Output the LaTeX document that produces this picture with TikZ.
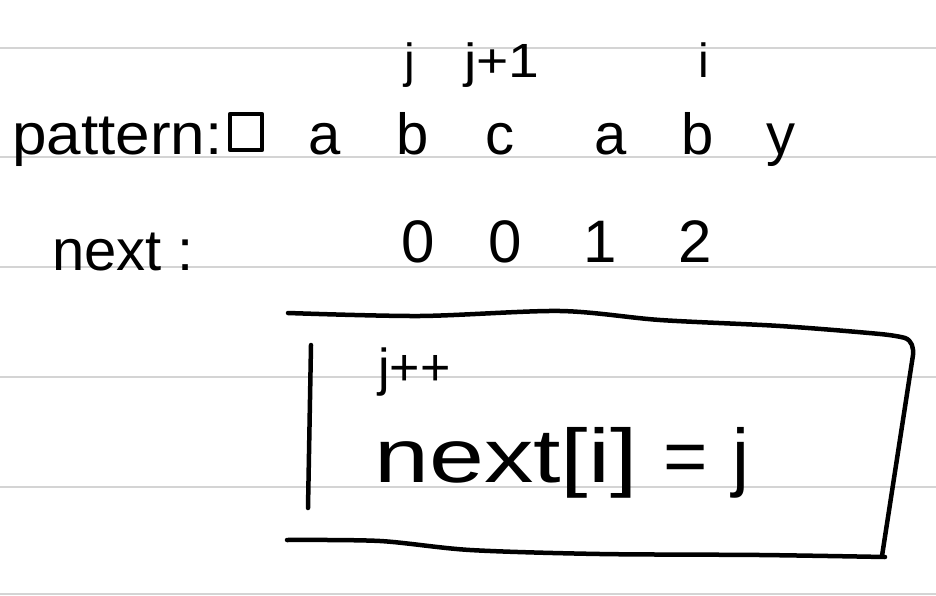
\documentclass[tikz,border=0pt]{standalone}
\usepackage{fontspec}
\setmainfont{Liberation Sans}
\usetikzlibrary{positioning}
\begin{document}
\begin{tikzpicture}[
      x = 1pt, y = -1pt, % picture units = pixels
      ruling/.style = {draw=black!17, line width=2.5pt},
      ink/.style = {draw=black, line width=4.5pt, line cap=round, line join=round},
      hand/.style = {inner sep=0pt, anchor=base, font=\fontsize{58}{58}\selectfont},
      idx/.style = {hand, font=\fontsize{48}{48}\selectfont},
      digit/.style = {hand, font=\fontsize{60}{60}\selectfont}
   ]

   \useasboundingbox (0,0) rectangle (936,596);
   \fill[white] (0,0) rectangle (936,596);

   % ruled paper
   \foreach \y in {48,157,267,377,487,594}
      \draw[ruling] (0,\y) -- (936,\y);

   % pattern row
   \node[hand, anchor=base west] (pat) at (12,155) {\scalebox{1.07}[1]{pattern:}};
   \node[ink, rectangle, minimum width=32pt, minimum height=36pt, inner sep=0pt] (blank) at (246,132) {};
   \node[hand] (c1) at (325,155) {a};
   \node[hand] (c2) at (413,155) {b};
   \node[hand] (c3) at (500,155) {c};
   \node[hand] (c4) at (611,155) {a};
   \node[hand] (c5) at (698,155) {b};
   \node[hand] (c6) at (781,155) {y};

   % index marks
   \node[idx] (lj)  at (410,78) {j};
   \node[idx, anchor=base west] (lj1) at (464,78) {\scalebox{1.15}[1]{j+1}};
   \node[idx] (li)  at (704,78) {i};

   % next row
   \node[hand, anchor=base west] (nxt) at (52,270) {next :};
   \node[digit] (n2) at (418,262) {0};
   \node[digit] (n3) at (505,262) {0};
   \node[digit] (n4) at (600,262) {1};
   \node[digit] (n5) at (695,262) {2};

   % box with the update step
   \draw[ink] plot[smooth] coordinates {(288,313) (420,316) (560,311) (660,320) (780,326) (880,334) (905,338)}
      to[out=-20,in=85] (913,355) -- (882,556);
   \draw[ink] plot[smooth] coordinates {(287,540) (380,541) (470,550) (600,554) (760,555) (885,557)};
   \draw[ink] (311,345) -- (308,508);

   \node[hand, anchor=base west, font=\fontsize{52}{52}\selectfont] (inc) at (378,385) {j++};
   \node[hand, anchor=base west, font=\fontsize{76}{76}\selectfont] (assign) at (374,482)
      {\scalebox{1.3}[1]{next[i]}\hspace{26pt}=\hspace{24pt}j};

\end{tikzpicture}
\end{document}
